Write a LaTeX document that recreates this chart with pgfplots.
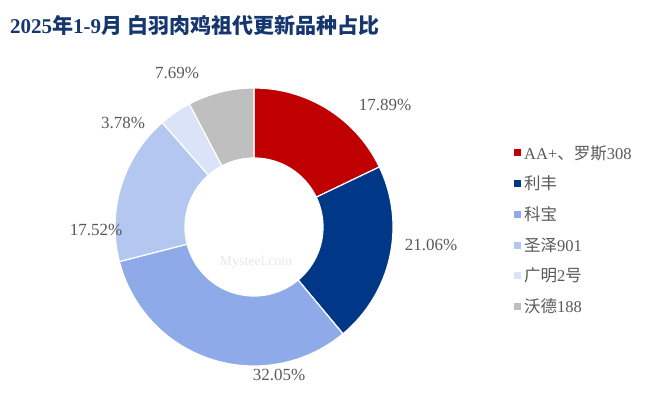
\documentclass[border=0pt]{standalone}
\usepackage{fontspec}
\setmainfont{Liberation Serif}
\newfontfamily\cjk{Noto Sans CJK SC}
\usepackage{pgfplots}
\usepackage{pgfplotstable}
\pgfplotsset{compat=1.18}

\definecolor{cRed}{RGB}{192,0,0}
\definecolor{cNavy}{RGB}{0,56,135}
\definecolor{cMid}{RGB}{143,170,232}
\definecolor{cLight}{RGB}{180,199,240}
\definecolor{cPale}{RGB}{218,227,248}
\definecolor{cGrey}{RGB}{191,191,191}
\definecolor{titleblue}{RGB}{22,54,110}
\definecolor{txt}{RGB}{89,89,89}

% shares in percent, in the order of the legend
\pgfplotstableread{
share
17.89
21.06
32.05
17.52
3.78
7.69
}\shares

% ring centre and radii, in pixels of the 660x412 frame
\def\cx{254}\def\cy{185}\def\Ro{139}\def\Ri{69}
\def\edge#1{\csname edge#1\endcsname}

% sector edges, clockwise from 12 o'clock
\def\cum{0}%
\expandafter\xdef\csname edge0\endcsname{90}%
\pgfplotsforeachungrouped \i in {1,...,6}{%
  \pgfmathtruncatemacro\row{\i-1}%
  \pgfplotstablegetelem{\row}{share}\of\shares%
  \pgfmathsetmacro\cum{\cum+\pgfplotsretval}%
  \pgfmathsetmacro\tmp{90-3.6*\cum}%
  \expandafter\xdef\csname edge\i\endcsname{\tmp}%
}

% one ring sector: outer arc from #1 to #2, inner arc back
\newcommand\slice[3]{%
  \addplot[fill=#3, draw=white, line width=1.2pt, domain=0:2, samples=201, variable=\t]
   ({\cx+(\t<1.005?\Ro:\Ri)*cos(\t<1.005?#1+(#2-#1)*\t:#2+(#1-#2)*(\t-1.01)/0.99)},
    {\cy+(\t<1.005?\Ro:\Ri)*sin(\t<1.005?#1+(#2-#1)*\t:#2+(#1-#2)*(\t-1.01)/0.99)}) -- cycle;
}

\begin{document}
\begin{tikzpicture}
\useasboundingbox (0,0) rectangle (660pt,412pt);
\begin{axis}[
  at={(0,0)}, anchor=south west,
  scale only axis, width=660pt, height=412pt,
  xmin=0, xmax=660, ymin=0, ymax=412,
  hide axis, clip=false,
  legend image code/.code={\fill[#1, draw=none] (0pt,-3.5pt) rectangle (7pt,3.5pt);},
  legend style={at={(axis cs:514,269)}, anchor=north west, draw=none, fill=none,
    font=\fontsize{16.5}{19}\selectfont, text=txt, row sep=11.4pt, inner sep=0pt,
    nodes={inner xsep=3pt}},
  legend cell align=left,
  legend entries={AA+{\cjk 、罗斯}308, {\cjk 利丰}, {\cjk 科宝}, {\cjk 圣泽}901, {\cjk 广明}2{\cjk 号}, {\cjk 沃德}188},
]
\slice{\edge{0}}{\edge{1}}{cRed}
\slice{\edge{1}}{\edge{2}}{cNavy}
\slice{\edge{2}}{\edge{3}}{cMid}
\slice{\edge{3}}{\edge{4}}{cLight}
\slice{\edge{4}}{\edge{5}}{cPale}
\slice{\edge{5}}{\edge{6}}{cGrey}

\node[text=gray!18, font=\fontsize{14}{16}\selectfont] at (axis cs:256,150) {Mysteel.com};

\begin{scope}[every node/.style={text=txt, font=\fontsize{17}{20}\selectfont}]
\node at (axis cs:385,307) {17.89\%};
\node at (axis cs:431,167) {21.06\%};
\node at (axis cs:279,37) {32.05\%};
\node at (axis cs:96,182) {17.52\%};
\node at (axis cs:123,289) {3.78\%};
\node at (axis cs:177,339) {7.69\%};
\end{scope}

\node[anchor=west, inner sep=0pt, text=titleblue, font=\fontsize{21}{25}\selectfont\bfseries]
  at (axis cs:10,387) {2025{\cjk 年}1-9{\cjk 月} {\cjk 白羽肉鸡祖代更新品种占比}};
\end{axis}
\end{tikzpicture}
\end{document}
